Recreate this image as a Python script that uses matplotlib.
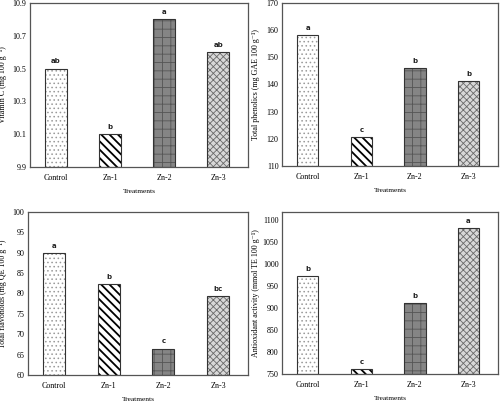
import matplotlib
matplotlib.use("Agg")
import matplotlib.pyplot as plt

plt.rcParams['font.family'] = ['Liberation Serif', 'DejaVu Serif']
plt.rcParams['hatch.linewidth'] = 0.6

treatments = ["Control", "Zn-1", "Zn-2", "Zn-3"]

vitc = [10.5, 10.1, 10.8, 10.6]
vitc_letters = ["ab", "b", "a", "ab"]
phen = [158.2, 120.6, 145.9, 141.1]
phen_letters = ["a", "c", "b", "b"]
flav = [90.0, 82.3, 66.5, 79.3]
flav_letters = ["a", "b", "c", "bc"]
anti = [974, 761, 912, 1083]
anti_letters = ["b", "c", "b", "a"]

panels = [
    dict(vals=vitc, letters=vitc_letters, ylim=(9.9, 10.9), ticks=[9.9, 10.1, 10.3, 10.5, 10.7, 10.9],
         fmt="{:.1f}", ylabel="Vitamin C (mg 100 g\u207b\u00b9)",
         pos=[0.060, 0.5856, 0.436, 0.407], lx=-0.105),
    dict(vals=phen, letters=phen_letters, ylim=(110, 170), ticks=list(range(110, 171, 10)),
         fmt="{:d}", ylabel="Total phenolics (mg GAE 100 g\u207b\u00b9)",
         pos=[0.564, 0.588, 0.432, 0.405], lx=-0.10),
    dict(vals=flav, letters=flav_letters, ylim=(60, 100), ticks=list(range(60, 101, 5)),
         fmt="{:d}", ylabel="Total flavonoids (mg QE 100 g\u207b\u00b9)",
         pos=[0.056, 0.0695, 0.440, 0.4045], lx=-0.095),
    dict(vals=anti, letters=anti_letters, ylim=(750, 1119), ticks=list(range(750, 1101, 50)),
         fmt="{:d}", ylabel="Antioxidant activity (mmol TE 100 g\u207b\u00b9)",
         pos=[0.564, 0.072, 0.432, 0.402], lx=-0.10),
]

styles = [
    dict(fc="white", hc="#9a9a9a", hatch="....", hlw=0.6),
    dict(fc="white", hc="black", hatch="\\\\\\\\", hlw=1.3),
    dict(fc="#858585", hc="#555555", hatch="++", hlw=0.6),
    dict(fc="#d8d8d8", hc="#6a6a6a", hatch="xxxxx", hlw=0.6),
]

fig = plt.figure(figsize=(5.0, 4.03), dpi=100)
x = list(range(len(treatments)))
for p in panels:
    ax = fig.add_axes(p["pos"])
    lo, hi = p["ylim"]
    for i, v in enumerate(p["vals"]):
        s = styles[i]
        with plt.rc_context({'hatch.linewidth': s["hlw"]}):
            bars = ax.bar(i, v - lo, bottom=lo, width=0.4, color=s["fc"], edgecolor=s["hc"],
                          hatch=s["hatch"], linewidth=0, zorder=2)
        for b in bars:
            if hasattr(b, "set_hatch_linewidth"):
                b.set_hatch_linewidth(s["hlw"])
        ax.bar(i, v - lo, bottom=lo, width=0.4, fill=False, edgecolor="#333333",
               linewidth=0.8, zorder=3)
        ax.text(i, v + (hi - lo) * 0.025, p["letters"][i], ha="center", va="bottom",
                fontsize=5, fontweight="bold", family="DejaVu Sans", color="#222222")
    ax.set_xlim(-0.48, 3.55)
    ax.set_ylim(lo, hi)
    ax.set_yticks(p["ticks"])
    ax.set_yticklabels([p["fmt"].format(t) for t in p["ticks"]], fontsize=5.8)
    ax.set_xticks(x)
    ax.set_xticklabels(treatments, fontsize=5.8)
    ax.tick_params(axis="both", length=0, pad=2.5)
    ax.tick_params(axis="x", pad=5)
    ax.set_xlabel("Treatments", fontsize=5.3, labelpad=5)
    ax.set_ylabel(p["ylabel"], fontsize=5.8)
    ax.yaxis.set_label_coords(p["lx"], 0.5)
    for sp in ax.spines.values():
        sp.set_color("#555555")
        sp.set_linewidth(0.9)

fig.savefig("out.png", dpi=100)
